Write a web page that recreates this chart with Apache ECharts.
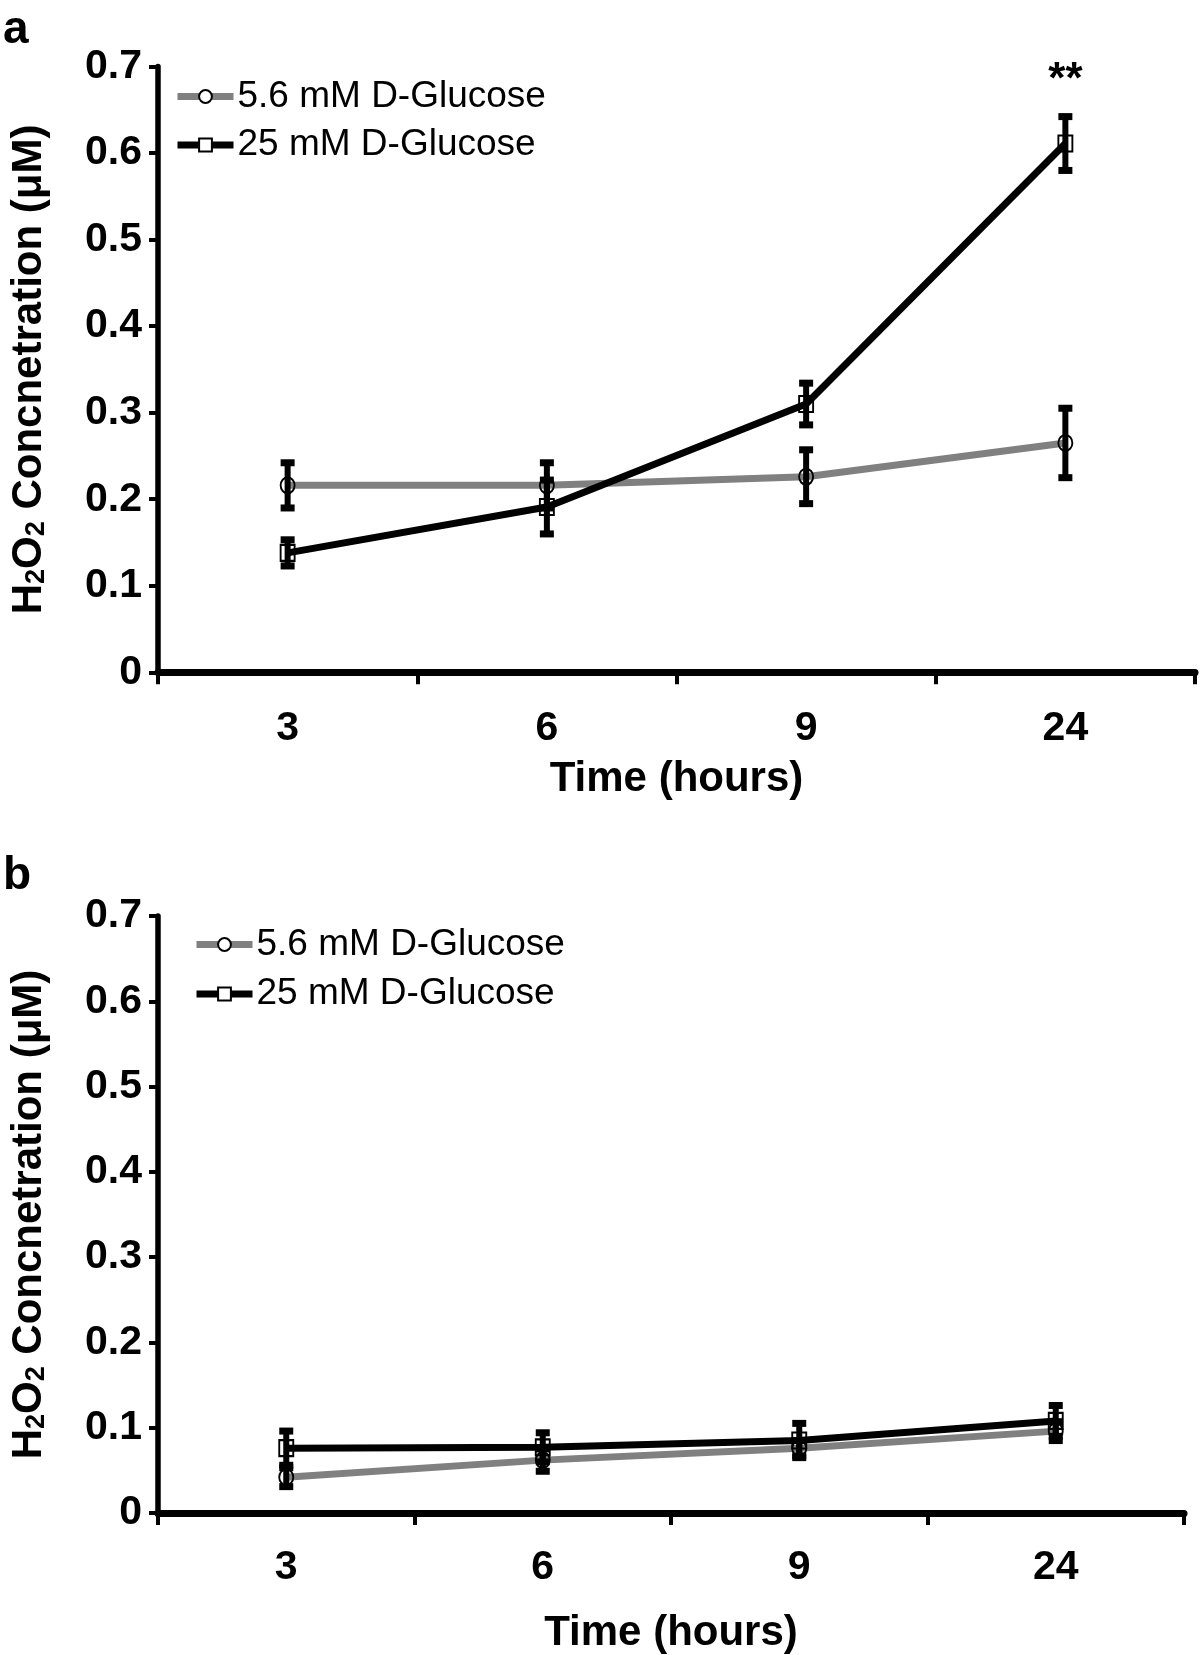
<!DOCTYPE html>
<html>
<head>
<meta charset="utf-8">
<script src="https://cdn.jsdelivr.net/npm/echarts@6/dist/echarts.min.js"></script>
<style>
html,body{margin:0;padding:0;background:#fff;}
#chart{width:1200px;height:1655px;}
</style>
</head>
<body>
<div id="chart"></div>
<script>
// ---- data ----
const categories = ['3', '6', '9', '24'];
const seriesNames = ['5.6 mM D-Glucose', '25 mM D-Glucose'];
const yTicks = [0, 0.1, 0.2, 0.3, 0.4, 0.5, 0.6, 0.7];

// panel a
const aLowMean = [0.216, 0.216, 0.226, 0.265];
const aLowErr  = [0.029, 0.029, 0.034, 0.043];
const aHighMean = [0.138, 0.191, 0.310, 0.611];
const aHighErr  = [0.018, 0.034, 0.027, 0.034];
const aSignif = ['', '', '', '**'];

// panel b
const bLowMean = [0.042, 0.062, 0.076, 0.096];
const bLowErr  = [0.014, 0.016, 0.012, 0.014];
const bHighMean = [0.076, 0.077, 0.085, 0.108];
const bHighErr  = [0.023, 0.020, 0.023, 0.021];

// ---- helpers ----
const FONT = "'Liberation Sans', Arial, Helvetica, sans-serif";

function errData(mean, err) {
  return mean.map((m, i) => [i, m - err[i], m + err[i]]);
}
function errRender(params, api) {
  const x = api.value(0), lo = api.value(1), hi = api.value(2);
  const pLo = api.coord([x, lo]);
  const pHi = api.coord([x, hi]);
  const sw = 6, cw = 14, ch = 7;
  return {
    type: 'group',
    children: [
      {type: 'rect', shape: {x: pHi[0] - sw / 2, y: pHi[1], width: sw, height: pLo[1] - pHi[1]}, style: {fill: '#000'}},
      {type: 'rect', shape: {x: pHi[0] - cw / 2, y: pHi[1] - 1, width: cw, height: ch}, style: {fill: '#000'}},
      {type: 'rect', shape: {x: pLo[0] - cw / 2, y: pLo[1] - ch + 1, width: cw, height: ch}, style: {fill: '#000'}}
    ]
  };
}

function xAxisOpt(gridIndex, labelMargin, nameGap) {
  return {
    type: 'category', gridIndex: gridIndex, data: categories, boundaryGap: true,
    axisLine: {lineStyle: {color: '#000', width: 7}},
    axisTick: {show: true, alignWithLabel: false, length: 12, inside: false, lineStyle: {color: '#000', width: 4}},
    axisLabel: {color: '#000', fontSize: 41, fontWeight: 'bold', fontFamily: FONT, margin: labelMargin, interval: 0},
    name: 'Time (hours)', nameLocation: 'middle', nameGap: nameGap,
    nameTextStyle: {color: '#000', fontSize: 42, fontWeight: 'bold', fontFamily: FONT},
    splitLine: {show: false}
  };
}
function yAxisOpt(gridIndex) {
  return {
    type: 'value', gridIndex: gridIndex, min: yTicks[0], max: yTicks[yTicks.length - 1], interval: 0.1,
    axisLine: {show: true, lineStyle: {color: '#000', width: 5.5}},
    axisTick: {show: true, length: 9, lineStyle: {color: '#000', width: 4}},
    axisLabel: {color: '#000', fontSize: 41, fontWeight: 'bold', fontFamily: FONT, margin: 16,
      formatter: v => String(Math.round(v * 10) / 10)},
    splitLine: {show: false},
    name: '{b|H}{s|2}{b|O}{s|2}{b| Concnetration (μM)}',
    nameLocation: 'middle', nameRotate: 90, nameGap: 108,
    nameTextStyle: {
      color: '#000', fontFamily: FONT,
      rich: {
        b: {fontSize: 42, fontWeight: 'bold', fontFamily: FONT, color: '#000', verticalAlign: 'bottom'},
        s: {fontSize: 27, fontWeight: 'bold', fontFamily: FONT, color: '#000', verticalAlign: 'bottom'}
      }
    }
  };
}
function lineSeries(name, values, idx, color, symbol) {
  return {
    type: 'line', name: name, xAxisIndex: idx, yAxisIndex: idx, data: values,
    symbol: symbol, symbolSize: [14, 16], showSymbol: true, showAllSymbol: true,
    lineStyle: {color: color, width: 7},
    itemStyle: {color: 'rgba(255,255,255,0)', borderColor: '#000', borderWidth: 2},
    emphasis: {disabled: true}, z: 2, animation: false
  };
}
function errSeries(name, mean, err, idx) {
  return {
    type: 'custom', name: name + ' err', xAxisIndex: idx, yAxisIndex: idx,
    data: errData(mean, err), renderItem: errRender,
    encode: {x: 0, y: [1, 2]}, z: 3, silent: true, animation: false
  };
}
function legendOpt(left, top, gap) {
  return {
    data: seriesNames, orient: 'vertical', left: left, top: top, itemGap: gap,
    itemWidth: 56, itemHeight: 16, padding: 0,
    itemStyle: {color: '#fff', borderColor: '#000', borderWidth: 2},
    lineStyle: {width: 7},
    textStyle: {color: '#000', fontSize: 37, fontFamily: FONT, padding: [0, 0, 0, -1]},
    selectedMode: false
  };
}

const sigData = aSignif.map((t, i) => t ? {value: [i, aHighMean[i] + aHighErr[i]], label: {formatter: t}} : null).filter(Boolean);

const option = {
  backgroundColor: '#fff',
  animation: false,
  title: [
    {text: 'a', left: -2, top: 2, padding: 5, textStyle: {fontSize: 46, fontWeight: 'bold', fontFamily: FONT, color: '#000'}},
    {text: 'b', left: -2, top: 848, padding: 5, textStyle: {fontSize: 46, fontWeight: 'bold', fontFamily: FONT, color: '#000'}}
  ],
  legend: [legendOpt(174, 78, 11.5), legendOpt(193, 926, 12.5)],
  grid: [
    {left: 157, top: 66.5, width: 1038, height: 605.8, containLabel: false},
    {left: 153, top: 916, width: 1031, height: 598.5, containLabel: false}
  ],
  xAxis: [xAxisOpt(0, 36, 86), xAxisOpt(1, 34, 99)],
  yAxis: [yAxisOpt(0), yAxisOpt(1)],
  series: [
    lineSeries(seriesNames[0], aLowMean, 0, '#808080', 'circle'),
    lineSeries(seriesNames[1], aHighMean, 0, '#000000', 'rect'),
    errSeries(seriesNames[0], aLowMean, aLowErr, 0),
    errSeries(seriesNames[1], aHighMean, aHighErr, 0),
    {
      type: 'scatter', name: 'signif', xAxisIndex: 0, yAxisIndex: 0, data: sigData,
      symbol: 'circle', symbolSize: 0, itemStyle: {color: '#000'}, silent: true, z: 4,
      label: {show: true, position: 'top', distance: 11, color: '#000', opacity: 1,
        fontSize: 44, fontWeight: 'bold', fontFamily: FONT}
    },
    lineSeries(seriesNames[0], bLowMean, 1, '#808080', 'circle'),
    lineSeries(seriesNames[1], bHighMean, 1, '#000000', 'rect'),
    errSeries(seriesNames[0], bLowMean, bLowErr, 1),
    errSeries(seriesNames[1], bHighMean, bHighErr, 1)
  ]
};

const chart = echarts.init(document.getElementById('chart'), null, {renderer: 'canvas'});
chart.setOption(option);
</script>
</body>
</html>
